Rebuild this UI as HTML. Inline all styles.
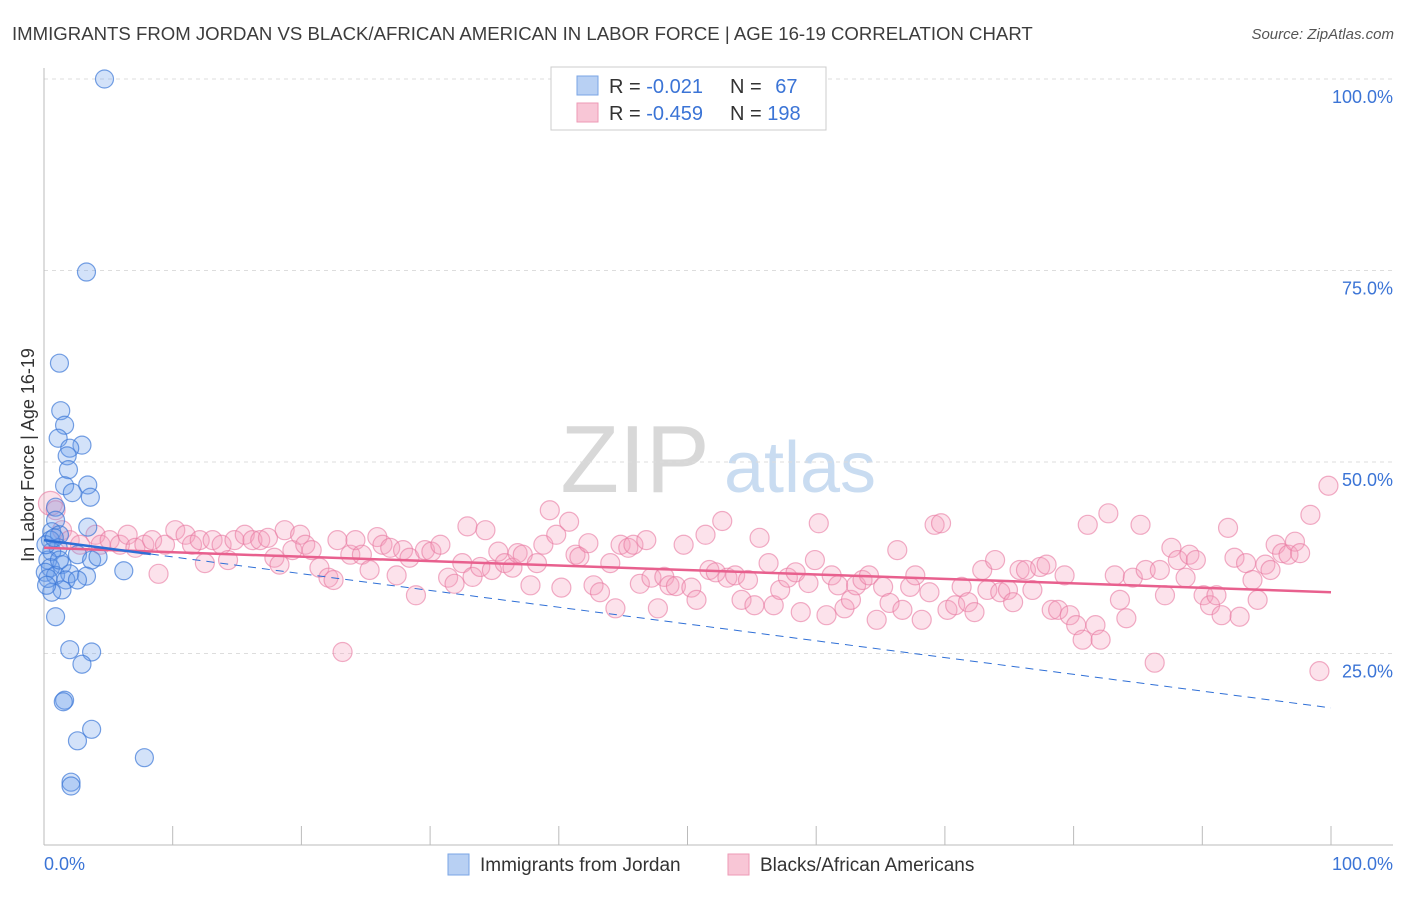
<!DOCTYPE html>
<html><head><meta charset="utf-8"><style>
body{margin:0;background:#fff;font-family:"Liberation Sans",sans-serif;}
svg text{font-family:"Liberation Sans",sans-serif;}
</style></head><body>
<svg id="chart" width="1406" height="892" xmlns="http://www.w3.org/2000/svg">
<text x="12" y="40" font-size="18.6" fill="#3c3c3c">IMMIGRANTS FROM JORDAN VS BLACK/AFRICAN AMERICAN IN LABOR FORCE | AGE 16-19 CORRELATION CHART</text>
<text x="1394" y="39" font-size="15" fill="#555" font-style="italic" text-anchor="end">Source: ZipAtlas.com</text>
<text x="635" y="492" font-size="96" fill="#d8d8d8" font-family="Liberation Serif" text-anchor="middle">ZIP</text>
<text x="800" y="492" font-size="72" fill="#c9dcf1" text-anchor="middle">atlas</text>
<g id="grid"></g><g id="axes"></g><g id="pink"></g><g id="blue"></g><g id="trends"></g>
<text transform="translate(34,455) rotate(-90)" font-size="18" fill="#333" text-anchor="middle">In Labor Force | Age 16-19</text>
<g>
<rect x="551" y="67" width="275" height="63" fill="#fff" stroke="#ccc"/>
<rect x="577" y="76" width="21" height="19" fill="#b8d0f3" stroke="#7aa5e4"/>
<rect x="577" y="103" width="21" height="19" fill="#f8c6d6" stroke="#ee9ab6"/>
<text x="609" y="93" font-size="20" fill="#333">R = <tspan fill="#3b74d6">-0.021</tspan></text>
<text x="730" y="93" font-size="20" fill="#333">N = <tspan fill="#3b74d6" dx="8">67</tspan></text>
<text x="609" y="120" font-size="20" fill="#333">R = <tspan fill="#3b74d6">-0.459</tspan></text>
<text x="730" y="120" font-size="20" fill="#333">N = <tspan fill="#3b74d6">198</tspan></text>
</g>
<g>
<rect x="448" y="854" width="21" height="21" fill="#b8d0f3" stroke="#7aa5e4"/>
<text x="480" y="871" font-size="19" fill="#333">Immigrants from Jordan</text>
<rect x="728" y="854" width="21" height="21" fill="#f8c6d6" stroke="#ee9ab6"/>
<text x="760" y="871" font-size="19" fill="#333">Blacks/African Americans</text>
</g>
</svg>
<script>
const blueX=[4.7,3.3,1.2,1.3,1.6,1.1,2.95,2.0,1.8,1.9,1.6,3.4,2.2,3.6,0.9,0.9,3.4,0.6,1.2,0.5,1.1,0.6,0.3,2.6,3.7,1.4,0.5,0.1,0.9,2.0,3.3,6.2,1.7,2.6,1.4,0.6,0.9,2.0,3.7,2.95,1.6,1.5,3.7,2.6,7.8,2.1,2.1,0.15,0.3,0.8,1.2,0.2,4.2];
const blueY=[100,74.8,62.9,56.7,54.8,53.1,52.2,51.8,50.8,49.0,46.9,47.0,46.0,45.4,44.1,42.4,41.5,40.9,40.5,39.8,38.8,38.3,37.2,37.9,37.2,36.6,36.2,35.6,35.2,35.4,35.1,35.8,34.6,34.6,33.3,33.0,29.8,25.5,25.2,23.6,18.9,18.7,15.1,13.6,11.4,8.2,7.7,39.2,34.8,40.1,37.2,33.9,37.6];
const pinkX=[0.5,0.9,1.4,2.0,2.8,4.0,4.4,5.1,5.9,6.5,7.1,7.8,8.4,8.9,9.4,10.2,11.0,11.5,12.1,12.5,13.1,13.8,14.3,14.8,15.6,16.2,16.8,17.4,17.9,18.3,18.7,19.3,19.9,20.3,20.8,21.4,22.1,22.5,22.8,23.2,23.8,24.2,24.7,25.3,25.9,26.3,26.9,27.4,27.9,28.4,28.9,29.6,30.1,30.8,31.4,31.9,32.5,32.9,33.3,33.9,34.3,34.8,35.3,35.8,36.4,36.8,37.2,37.8,38.3,38.8,39.3,39.8,40.2,40.8,41.3,41.6,42.3,42.7,43.2,44.0,44.4,44.8,45.4,45.8,46.3,46.8,47.2,47.7,48.2,48.6,49.1,49.7,50.3,50.7,51.4,51.7,52.2,52.7,53.1,53.7,54.2,54.7,55.2,55.6,56.3,56.7,57.2,57.8,58.4,58.8,59.4,59.9,60.2,60.8,61.2,61.7,62.2,62.7,63.1,63.6,64.1,64.7,65.2,65.7,66.3,66.7,67.3,67.7,68.2,68.8,69.2,69.7,70.2,70.8,71.3,71.8,72.3,72.9,73.3,73.9,74.3,74.9,75.3,75.8,76.3,76.8,77.4,77.9,78.3,78.8,79.3,79.7,80.2,80.7,81.1,81.7,82.1,82.7,83.2,83.6,84.1,84.6,85.2,85.6,86.3,86.7,87.1,87.6,88.1,88.7,89.0,89.5,90.1,90.6,91.1,91.5,92.0,92.5,92.9,93.4,93.9,94.3,94.9,95.3,95.7,96.2,96.7,97.2,97.6,98.4,99.1,99.8];
const pinkY=[44.6,43.7,41.1,39.8,39.2,40.5,39.2,39.8,39.2,40.5,38.8,39.2,39.8,35.4,39.2,41.1,40.5,39.2,39.8,36.8,39.8,39.2,37.2,39.8,40.5,39.8,39.8,40.1,37.5,36.6,41.1,38.5,40.5,39.2,38.5,36.2,34.9,34.6,39.8,25.2,37.9,39.8,37.9,35.9,40.2,39.2,38.8,35.2,38.5,37.5,32.6,38.5,38.3,39.2,34.9,34.1,36.8,41.6,35.0,36.3,41.1,35.9,38.3,36.8,36.2,38.1,37.9,33.9,36.8,39.2,43.7,40.5,33.6,42.2,37.9,37.6,39.4,33.9,33.0,36.8,30.9,39.2,38.8,39.2,34.1,39.8,34.9,30.9,35.0,33.9,33.8,39.2,33.6,32.0,40.5,35.9,35.6,42.3,34.9,35.2,32.0,34.6,31.3,40.1,36.8,31.3,33.3,34.9,35.6,30.4,34.2,37.2,42.0,30.0,35.2,33.9,30.9,32.0,33.9,34.6,35.2,29.4,33.7,31.6,38.5,30.7,33.7,35.2,29.4,33.0,41.8,42.0,30.7,31.3,33.7,31.7,30.4,35.9,33.3,37.2,33.0,33.3,31.7,35.9,35.9,33.3,36.3,36.6,30.7,30.7,35.2,30.0,28.7,26.8,41.8,28.7,26.8,43.3,35.2,32.0,29.6,34.9,41.8,35.9,23.8,35.9,32.6,38.8,37.2,34.9,37.9,37.2,32.6,31.3,32.6,30.0,41.4,37.5,29.8,36.8,34.6,32.0,36.6,35.9,39.2,38.1,37.9,39.6,38.1,43.1,22.7,46.9];
const yTicks=[25,50,75,100];
const yTickLabels=["25.0%","50.0%","75.0%","100.0%"];
const xTicks=[0,10,20,30,40,50,60,70,80,90,100];
const xTickLabels=["0.0%","100.0%"];
const pinkTrend=[38.8,33.0];
const blueTrend=[39.8,17.9];
const blueSolidEnd=8.3;

const NS="http://www.w3.org/2000/svg";
const X=v=>44+v*12.87, Y=v=>845-v*7.66;
function mk(parent,tag,attrs){const e=document.createElementNS(NS,tag);for(const k in attrs)e.setAttribute(k,attrs[k]);document.getElementById(parent).appendChild(e);return e;}
yTicks.forEach((t,i)=>{
  const l=mk('grid','line',{x1:44,x2:1393,y1:Y(t),y2:Y(t),stroke:'#ddd','stroke-dasharray':'4,4'});
  
  
  const tx=mk('grid','text',{x:1393,y:Y(t)+24,'font-size':18,fill:'#3b74d6','text-anchor':'end'});
  tx.textContent=yTickLabels[i];
  
  
});
let a=mk('axes','line',{x1:44,x2:44,y1:68,y2:845,stroke:'#bbb'});


a=mk('axes','line',{x1:44,x2:1393,y1:845,y2:845,stroke:'#bbb'});


xTicks.forEach(t=>{
  const l=mk('axes','line',{x1:X(t),x2:X(t),y1:826,y2:845,stroke:'#bbb'});
  
  
});
let t0=mk('axes','text',{x:44,y:870,'font-size':18,fill:'#3b74d6'});t0.textContent=xTickLabels[0];


let t1=mk('axes','text',{x:1393,y:870,'font-size':18,fill:'#3b74d6','text-anchor':'end'});t1.textContent=xTickLabels[1];


pinkX.forEach((x,i)=>{
  const c=mk('pink','circle',{cx:X(x),cy:Y(pinkY[i]),r:i==0?12:9.5,fill:'rgba(244,160,190,0.3)',stroke:'rgba(232,120,160,0.6)','stroke-width':1.2});
  
  
});
blueX.forEach((x,i)=>{
  const c=mk('blue','circle',{cx:X(x),cy:Y(blueY[i]),r:9,fill:'rgba(110,160,235,0.3)',stroke:'rgba(60,120,215,0.7)','stroke-width':1.2});
  
  
});
let p=mk('trends','line',{x1:X(0),y1:Y(pinkTrend[0]),x2:X(100),y2:Y(pinkTrend[1]),stroke:'#e8608e','stroke-width':2.5});


const bm=v=>blueTrend[0]+(blueTrend[1]-blueTrend[0])*v/100;
let b=mk('trends','line',{x1:X(0),y1:Y(blueTrend[0]),x2:X(blueSolidEnd),y2:Y(bm(blueSolidEnd)),stroke:'#2f6fd6','stroke-width':2.5});


b=mk('trends','line',{x1:X(blueSolidEnd),y1:Y(bm(blueSolidEnd)),x2:X(100),y2:Y(blueTrend[1]),stroke:'#2f6fd6','stroke-width':1,'stroke-dasharray':'8,6'});


</script>
</body></html>
